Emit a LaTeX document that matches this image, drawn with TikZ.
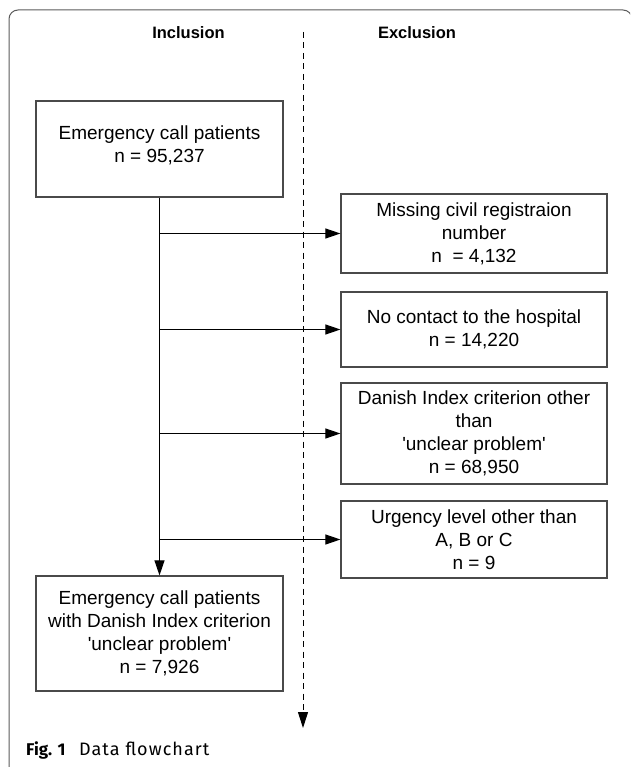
\documentclass[tikz,border=0pt]{standalone}
\usepackage{fontspec}
\setmainfont{Liberation Sans}
\newfontfamily\capfont{Fira Sans}
\newfontfamily\capwide{Fira Sans}[LetterSpace=6]
\usetikzlibrary{arrows.meta}
\definecolor{boxgray}{HTML}{4A4A4A}
\definecolor{framegray}{HTML}{5A5A5A}
\begin{document}
\begin{tikzpicture}[x=1pt,y=-1pt,
  box/.style={draw=boxgray,line width=1.2pt,align=center,inner sep=0pt,
    font=\fontsize{19}{23}\selectfont},
  arr/.style={line width=1pt,-{Triangle[length=15pt,width=10pt]}},
  darr/.style={line width=1pt,dash pattern=on 6pt off 4.5pt,-{Triangle[length=16pt,width=10pt]}},
  head/.style={font=\bfseries\fontsize{16.5}{20}\selectfont}]
\useasboundingbox (0,0) rectangle (630,767);
\begin{scope}
\clip (0,0) rectangle (630,767);
\draw[framegray,line width=1pt,rounded corners=9pt] (9,10) rectangle (632,776);
\end{scope}
\node[head] (inc) at (188.5,33) {Inclusion};
\node[head] (exc) at (417,33) {Exclusion};
\coordinate (dtop) at (303,32);
\coordinate (dend) at (303,728);
\draw[darr] (dtop) -- (dend);
\node[box,minimum width=247pt,minimum height=96pt] (top) at (159.5,149)
  {Emergency call patients\\n = 95,237\\[-14pt]};
\node[box,minimum width=247pt,minimum height=115pt] (bot) at (159.5,633.5)
  {Emergency call patients\\with Danish Index criterion\\\textquotesingle unclear problem\textquotesingle\\n = 7,926};
\node[box,minimum width=266pt,minimum height=79pt] (b1) at (474,233.5)
  {Missing civil registraion\\number\\n\ \ = 4,132};
\node[box,minimum width=266pt,minimum height=75pt] (b2) at (474,329.5)
  {No contact to the hospital\\n = 14,220};
\node[box,minimum width=266pt,minimum height=101pt] (b3) at (474,433.5)
  {Danish Index criterion other\\than\\\textquotesingle unclear problem\textquotesingle\\n = 68,950};
\node[box,minimum width=266pt,minimum height=77pt] (b4) at (474,539.5)
  {Urgency level other than\\A, B or C\\n = 9};
\draw[arr] (top.south) -- (bot.north);
\draw[arr] (top.south |- b1.west) -- (b1.west);
\draw[arr] (top.south |- b2.west) -- (b2.west);
\draw[arr] (top.south |- b3.west) -- (b3.west);
\draw[arr] (top.south |- b4.west) -- (b4.west);
\node[anchor=base west,inner sep=0pt,font=\capfont\fontsize{17}{20}\selectfont] (cap) at (26,755)
  {\textbf{Fig. 1}\hspace{0.8em}{\capwide\fontsize{18}{20}\selectfont Data flowchart}};
\end{tikzpicture}
\end{document}
